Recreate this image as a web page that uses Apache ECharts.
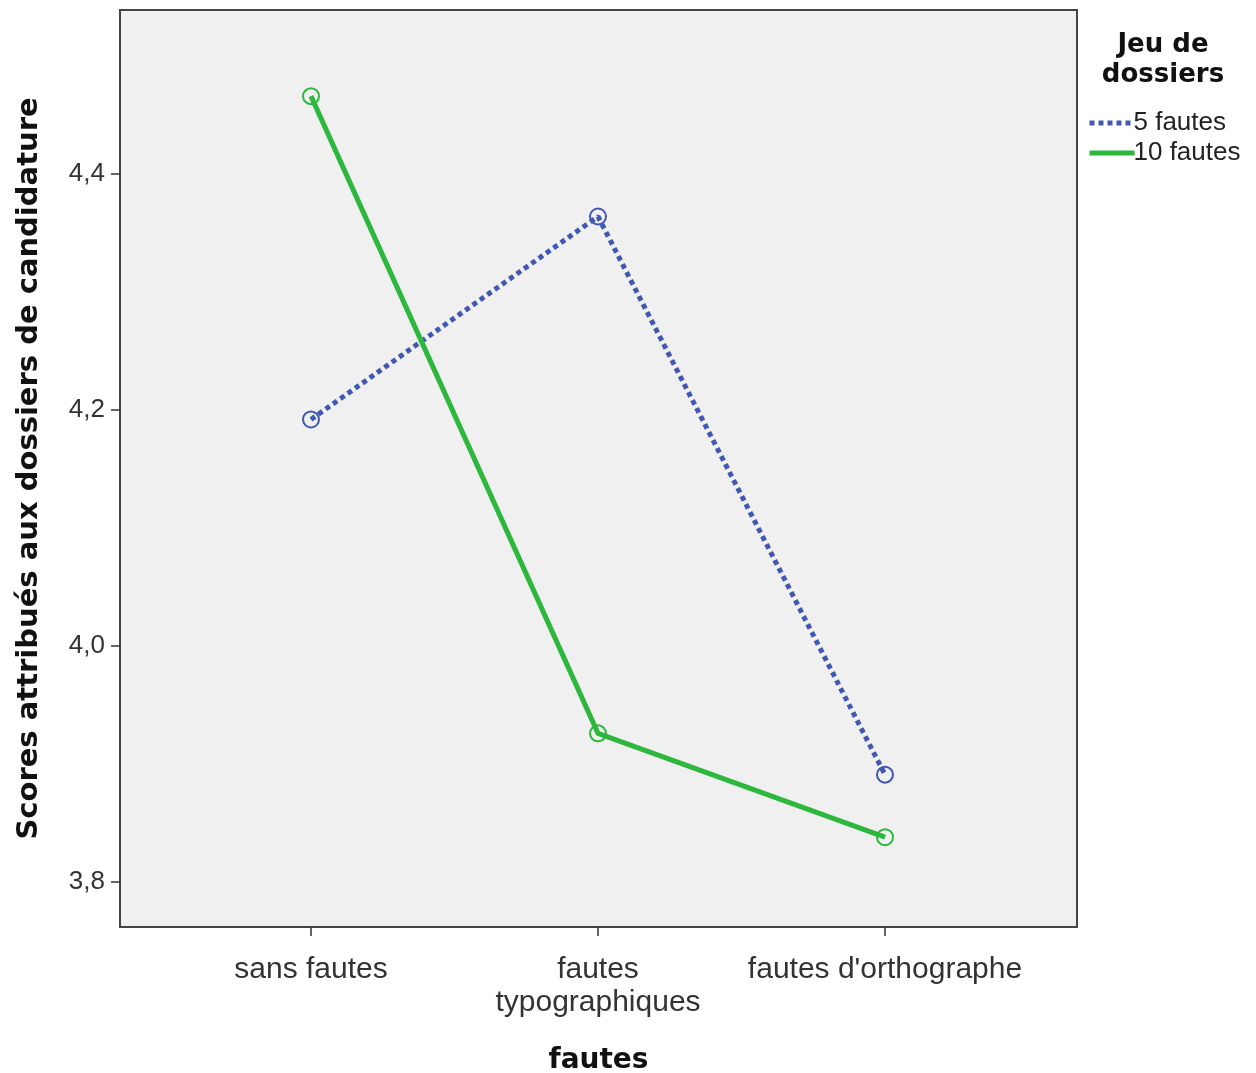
<!DOCTYPE html>
<html><head><meta charset="utf-8">
<script src="https://cdn.jsdelivr.net/npm/echarts@6/dist/echarts.min.js"></script>
<style>html,body{margin:0;padding:0;background:#fff}#c{width:1256px;height:1073px}</style>
</head><body><div id="c"></div>
<script>
const categories = ['sans fautes', 'fautes\ntypographiques', "fautes d'orthographe"];
const seriesNames = ['5 fautes', '10 fautes'];
const cinqFautes = [4.192, 4.364, 3.891];
const dixFautes = [4.466, 3.926, 3.838];
const yTicks = [3.8, 4.0, 4.2, 4.4];

const FONT = '"Liberation Sans", Arial, sans-serif';
const BOLD = '"DejaVu Sans", sans-serif';
const chart = echarts.init(document.getElementById('c'));
const toPts = arr => arr.map((v, i) => [i, v]);
chart.setOption({
  animation: false,
  backgroundColor: '#ffffff',
  title: {
    text: 'Jeu de\ndossiers',
    left: 1158, top: 25, textAlign: 'center',
    textStyle: { fontFamily: BOLD, fontWeight: 'bold', fontSize: 26, lineHeight: 30, color: '#111' }
  },
  legend: {
    orient: 'vertical', left: 1082, top: 105,
    itemWidth: 45, itemHeight: 18, itemGap: 4,
    data: seriesNames,
    itemStyle: { color: 'transparent', borderColor: 'transparent', borderWidth: 0 },
    lineStyle: { width: 5 },
    textStyle: { fontFamily: FONT, fontSize: 26, lineHeight: 26, color: '#222', padding: [0, 0, 0, -6] }
  },
  grid: { left: 120, top: 10, width: 957, height: 917, outerBoundsMode: 'none', containLabel: false, show: true, backgroundColor: '#f0f0f0', borderColor: '#444', borderWidth: 2 },
  xAxis: {
    type: 'value', min: -0.6655, max: 2.669,
    name: 'fautes', nameLocation: 'middle', nameGap: 120,
    nameTextStyle: { fontFamily: BOLD, fontWeight: 'bold', fontSize: 28, color: '#111' },
    axisLine: { show: true, onZero: false, lineStyle: { color: '#444', width: 2 } },
    splitLine: { show: false },
    axisTick: { show: true, customValues: [0, 1, 2], length: 9, lineStyle: { color: '#333', width: 1.5 } },
    axisLabel: {
      customValues: [0, 1, 2], margin: 26,
      formatter: v => categories[Math.round(v)] || '',
      fontFamily: FONT, fontSize: 30, lineHeight: 33, color: '#333'
    }
  },
  yAxis: {
    type: 'value', min: 3.7619, max: 4.539,
    name: 'Scores attribués aux dossiers de candidature', nameLocation: 'middle', nameGap: 76,
    nameTextStyle: { fontFamily: BOLD, fontWeight: 'bold', fontSize: 29, color: '#111' },
    axisLine: { show: true, onZero: false, lineStyle: { color: '#444', width: 2 } },
    splitLine: { show: false },
    axisTick: { show: true, customValues: yTicks, length: 9, lineStyle: { color: '#333', width: 1.5 } },
    axisLabel: {
      customValues: yTicks, margin: 15,
      formatter: v => v.toFixed(1).replace('.', ','),
      fontFamily: FONT, fontSize: 26, color: '#333'
    }
  },
  series: [
    {
      name: seriesNames[0], type: 'line', data: toPts(cinqFautes),
      symbol: 'circle', symbolSize: 16, showSymbol: true,
      lineStyle: { color: '#4058b4', width: 5, type: [5, 4] },
      itemStyle: { color: 'transparent', borderColor: '#4058b4', borderWidth: 2 }
    },
    {
      name: seriesNames[1], type: 'line', data: toPts(dixFautes),
      symbol: 'circle', symbolSize: 16, showSymbol: true,
      lineStyle: { color: '#2db83d', width: 5 },
      itemStyle: { color: 'transparent', borderColor: '#2db83d', borderWidth: 2 }
    }
  ]
});
</script></body></html>
